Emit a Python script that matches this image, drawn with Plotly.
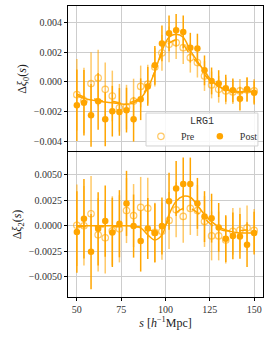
import plotly.graph_objects as go
from plotly.subplots import make_subplots

s = [50, 54, 58, 62, 66, 70, 74, 78, 82, 86, 90, 94, 98, 102, 106, 110, 114, 118, 122, 126, 130, 134, 138, 142, 146, 150]

# Monopole (top panel)
xi0_post = [-0.00157, -0.00139, -0.00224, -0.00130, -0.00251, -0.00196, -0.00201, -0.00189, -0.00250, -0.00116,
            -0.00030, 0.00112, 0.00259, 0.00327, 0.00347, 0.00336, 0.00230, 0.00224, 0.00078, 0.00007,
            -0.00011, -0.00042, -0.00056, -0.00112, -0.00049, -0.00072]
xi0_pre = [-0.00085, -0.00125, -0.00011, 0.00027, -0.00049, -0.00094, -0.00173, -0.00169, -0.00128, -0.00030,
           -0.00015, 0.00100, 0.00195, 0.00253, 0.00264, 0.00230, 0.00163, 0.00130, 0.00040, -0.00020,
           -0.00049, -0.00060, -0.00067, -0.00060, -0.00054, -0.00060]
err0 = [0.0024, 0.0022, 0.0021, 0.0019, 0.0018, 0.0017, 0.0016, 0.0015, 0.0015, 0.0014, 0.0013, 0.0013, 0.0012,
        0.0012, 0.0011, 0.0011, 0.0010, 0.0010, 0.0010, 0.0009, 0.0009, 0.0009, 0.0008, 0.0008, 0.0008, 0.0008]
fit0_post = [-0.0009, -0.0011, -0.0012, -0.0013, -0.00135, -0.0014, -0.00145, -0.0015, -0.0014, -0.0011,
             -0.0004, 0.0007, 0.0021, 0.0030, 0.0032, 0.0030, 0.0021, 0.0014, 0.0007, 0.0001,
             -0.0003, -0.0005, -0.0006, -0.00065, -0.00065, -0.00065]
fit0_pre = [-0.0008, -0.0010, -0.0011, -0.0012, -0.0013, -0.0013, -0.0014, -0.0014, -0.0013, -0.0010,
            -0.0003, 0.0007, 0.0019, 0.0026, 0.0028, 0.0025, 0.0018, 0.0013, 0.0005, 0.0000,
            -0.0003, -0.00055, -0.00065, -0.0007, -0.0007, -0.0007]

# Quadrupole (bottom panel)
xi2_post = [-0.00062, 0.00069, -0.00255, -0.00030, 0.00046, -0.00065, 0.00020, 0.00220, -0.00003, -0.00150,
            -0.00026, -0.00072, -0.00003, 0.00240, 0.00366, 0.00410, 0.00410, 0.00220, 0.00090, 0.00075,
            -0.00016, -0.00127, -0.00100, -0.00105, -0.00186, -0.00072]
xi2_pre = [0.00005, 0.00000, 0.00118, -0.00089, -0.00118, -0.00050, -0.00030, 0.00150, 0.00100, 0.00180,
           0.00172, -0.00065, -0.00055, 0.00052, 0.00157, 0.00092, 0.00170, 0.00150, 0.00042, -0.00100,
           -0.00100, -0.00140, -0.00055, -0.00043, -0.00020, -0.00045]
err2 = [0.0040, 0.0039, 0.0037, 0.0036, 0.0035, 0.0034, 0.0033, 0.0032, 0.0031, 0.0030, 0.0030, 0.0029, 0.0028,
        0.0028, 0.0027, 0.0026, 0.0026, 0.0025, 0.0025, 0.0024, 0.0024, 0.0023, 0.0023, 0.0022, 0.0022, 0.0021]
fit2_post = [0.0, 0.0, 0.0, 0.0, 0.0, 0.0, 0.0, 0.0, -0.00005, -0.0002, -0.0009, -0.0014, -0.0009, 0.0011,
             0.0024, 0.0029, 0.0028, 0.0020, 0.0011, 0.0004, -0.0001, -0.0004, -0.0006, -0.0007, -0.0007, -0.0007]
fit2_pre = [-0.0001, -0.0001, -0.0001, -0.0001, -0.0001, -0.0001, -0.0001, -0.0001, -0.0001, -0.0001, -0.0003,
            -0.0006, -0.0004, 0.0006, 0.0013, 0.0017, 0.0017, 0.0013, 0.0007, 0.0001, -0.0003, -0.0005, -0.0005,
            -0.0005, -0.0004, -0.0004]

x_ticks = [50, 75, 100, 125, 150]
y0_ticks = [-0.004, -0.002, 0.0, 0.002, 0.004]
y2_ticks = [-0.005, -0.0025, 0.0, 0.0025, 0.005]

ORANGE = "rgb(255,165,0)"
ORANGE_A = "rgba(255,165,0,0.6)"
SERIF = "Liberation Serif, DejaVu Serif, serif"
MONO = "Liberation Mono, DejaVu Sans Mono, monospace"

fig = make_subplots(rows=2, cols=1, shared_xaxes=True, vertical_spacing=0)

def add_panel(row, pre, post, err, fpre, fpost, show):
    fig.add_trace(go.Scatter(x=s, y=pre, mode="markers", name="Pre", showlegend=show, legendgroup="pre",
                             marker=dict(symbol="circle-open", size=6.5, color=ORANGE_A, line=dict(width=1.2)),
                             error_y=dict(type="data", array=err, color=ORANGE_A, thickness=1.5, width=0)),
                  row=row, col=1)
    fig.add_trace(go.Scatter(x=s, y=post, mode="markers", name="Post", showlegend=show, legendgroup="post",
                             marker=dict(symbol="circle", size=6.5, color=ORANGE),
                             error_y=dict(type="data", array=err, color=ORANGE, thickness=1.5, width=0)),
                  row=row, col=1)
    fig.add_trace(go.Scatter(x=s, y=fpre, mode="lines", showlegend=False, line_shape="spline",
                             line=dict(color=ORANGE, width=1.5, dash="dash")), row=row, col=1)
    fig.add_trace(go.Scatter(x=s, y=fpost, mode="lines", showlegend=False, line_shape="spline",
                             line=dict(color=ORANGE, width=1.5)), row=row, col=1)

add_panel(1, xi0_pre, xi0_post, err0, fit0_pre, fit0_post, True)
add_panel(2, xi2_pre, xi2_post, err2, fit2_pre, fit2_post, False)

axis_common = dict(showgrid=True, gridcolor="rgb(205,205,205)", gridwidth=1, showline=True, linecolor="black",
                   linewidth=1, zeroline=False, tickcolor="black", ticklen=3,
                   tickfont=dict(family=SERIF, size=10, color="#333"))

fig.update_xaxes(range=[45, 155], tickvals=x_ticks, **axis_common)
fig.update_xaxes(showticklabels=False, side="top", ticks="", mirror=False, row=1, col=1)
fig.update_xaxes(ticks="outside", mirror=True, row=2, col=1)
fig.update_xaxes(title=dict(text="<i>s</i> [<i>h</i><sup>−1</sup>Mpc]", font=dict(family=SERIF, size=12, color="#222"),
                            standoff=2), row=2, col=1)
fig.update_yaxes(ticks="outside", mirror=True, **axis_common)
fig.update_yaxes(range=[-0.0047, 0.0051], tickvals=y0_ticks, tickformat=".3f", row=1, col=1)
fig.update_yaxes(range=[-0.0070, 0.00725], tickvals=y2_ticks, tickformat=".4f", row=2, col=1)
fig.update_yaxes(title=dict(text="Δ<i>ξ</i><sub>0</sub>(<i>s</i>)", font=dict(family=SERIF, size=12, color="#222"),
                            standoff=4), row=1, col=1)
fig.update_yaxes(title=dict(text="Δ<i>ξ</i><sub>2</sub>(<i>s</i>)", font=dict(family=SERIF, size=12, color="#222"),
                            standoff=4), row=2, col=1)

# legend frame (box) + title
fig.add_shape(type="rect", xref="paper", yref="paper", x0=0.40, x1=0.974, y0=0.519, y1=0.632,
              line=dict(color="rgb(210,210,210)", width=1), fillcolor="rgba(255,255,255,0.85)", layer="above")
fig.add_annotation(text="LRG1", xref="paper", yref="paper", x=0.687, y=0.602, xanchor="center", yanchor="middle",
                   showarrow=False, font=dict(family=MONO, size=10, color="#333"))

fig.update_layout(
    width=270, height=337,
    margin=dict(l=68, r=7, t=6, b=40),
    paper_bgcolor="white", plot_bgcolor="white",
    yaxis=dict(domain=[0.4983, 1.0]), yaxis2=dict(domain=[0.0, 0.4983]),
    legend=dict(orientation="h", x=0.687, xanchor="center", y=0.552, yanchor="middle",
                bgcolor="rgba(0,0,0,0)", borderwidth=0,
                font=dict(family=SERIF, size=10, color="#333"),
                itemwidth=30, tracegroupgap=0),
)

fig.write_html("out.html", config={"displayModeBar": False},
               post_script="document.body.style.margin='0';document.body.style.padding='0';")
